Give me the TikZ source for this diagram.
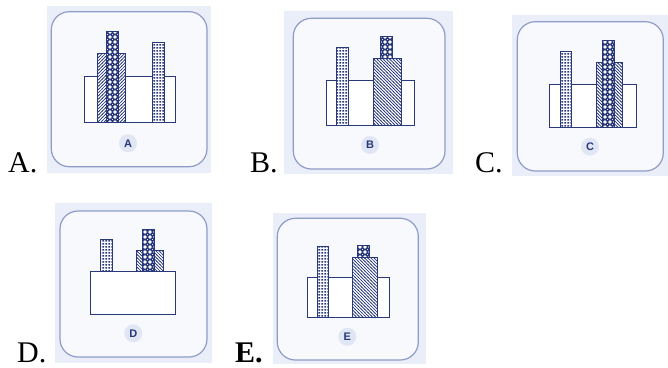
\documentclass[tikz,border=0pt]{standalone}
\usepackage{fontspec}
\setmainfont{Liberation Serif}
\newfontfamily\lblfont{Liberation Sans}
\usetikzlibrary{patterns}
\definecolor{navy}{RGB}{40,56,122}
\definecolor{panelbg}{RGB}{234,238,249}
\definecolor{cardfill}{RGB}{248,249,253}
\definecolor{cardline}{RGB}{143,156,200}
\definecolor{lblbg}{RGB}{225,230,245}
% north west lines
\pgfdeclarepatternformonly{nwl}{\pgfqpoint{-1pt}{-1pt}}{\pgfqpoint{4.2pt}{4.2pt}}{\pgfqpoint{3.2pt}{3.2pt}}{%
  \pgfsetlinewidth{0.7pt}%
  \pgfpathmoveto{\pgfqpoint{-0.5pt}{3.7pt}}\pgfpathlineto{\pgfqpoint{3.7pt}{-0.5pt}}%
  \pgfusepath{stroke}}
% north east lines
\pgfdeclarepatternformonly{nel}{\pgfqpoint{-1pt}{-1pt}}{\pgfqpoint{4.2pt}{4.2pt}}{\pgfqpoint{3.2pt}{3.2pt}}{%
  \pgfsetlinewidth{0.7pt}%
  \pgfpathmoveto{\pgfqpoint{-0.5pt}{-0.5pt}}\pgfpathlineto{\pgfqpoint{3.7pt}{3.7pt}}%
  \pgfusepath{stroke}}
% rings in a diamond grid
\pgfdeclarepatternformonly{rings}{\pgfqpoint{-0.5pt}{-0.5pt}}{\pgfqpoint{5.5pt}{5.5pt}}{\pgfqpoint{5pt}{5pt}}{%
  \pgfsetlinewidth{0.5pt}%
  \pgfpathcircle{\pgfqpoint{2.5pt}{2.5pt}}{1.25pt}%
  \pgfpathmoveto{\pgfqpoint{0pt}{2.5pt}}\pgfpathlineto{\pgfqpoint{2.5pt}{0pt}}%
  \pgfpathmoveto{\pgfqpoint{2.5pt}{5pt}}\pgfpathlineto{\pgfqpoint{5pt}{2.5pt}}%
  \pgfpathmoveto{\pgfqpoint{0pt}{2.5pt}}\pgfpathlineto{\pgfqpoint{2.5pt}{5pt}}%
  \pgfpathmoveto{\pgfqpoint{2.5pt}{0pt}}\pgfpathlineto{\pgfqpoint{5pt}{2.5pt}}%
  \pgfusepath{stroke}}
% dense dot grid
\pgfdeclarepatternformonly{dotgrid}{\pgfqpoint{0pt}{0pt}}{\pgfqpoint{3pt}{3pt}}{\pgfqpoint{3pt}{3pt}}{%
  \pgfpathrectangle{\pgfqpoint{0.4pt}{0.6pt}}{\pgfqpoint{2.1pt}{1.8pt}}%
  \pgfusepath{fill}}
\begin{document}
\begin{tikzpicture}[x=1pt,y=-1pt,
  bgpanel/.style={fill=panelbg, draw=none},
  card/.style={draw=cardline, line width=1.2pt, fill=cardfill, rounded corners=18pt},
  tank/.style={draw=navy, line width=0.9pt, fill=white},
  colnw/.style={draw=navy, line width=0.9pt, preaction={fill=white}, pattern=nwl, pattern color=navy},
  colne/.style={draw=navy, line width=0.9pt, preaction={fill=white}, pattern=nel, pattern color=navy},
  colring/.style={draw=navy, line width=0.9pt, preaction={fill=white}, pattern=rings, pattern color=navy},
  coldot/.style={draw=navy, line width=0.9pt, preaction={fill=white}, pattern=dotgrid, pattern color=navy},
  lblcirc/.style={circle, fill=lblbg, inner sep=0pt, minimum size=18pt, text=navy,
    font=\lblfont\bfseries\fontsize{11}{12}\selectfont},
  optlabel/.style={anchor=base west, inner sep=0pt, font=\fontsize{30}{30}\selectfont}
]
\useasboundingbox (0,0) rectangle (668,367);
\fill[white] (0,0) rectangle (668,367);

% ---------- A ----------
\fill[bgpanel] (47,6) rectangle (211,173);
\draw[card] (51.3,11.7) rectangle (207,166.7);
\draw[tank] (84,76.7) rectangle (175,122.3);
\draw[colne] (97.3,53.7) rectangle (125.7,122.3);
\draw[colring] (106.7,31) rectangle (118.7,122.3);
\draw[coldot] (152.3,42.3) rectangle (164.3,122.3);
\node[lblcirc] (la) at (128,143.3) {A};
\node[optlabel] (ta) at (8,172) {A.};

% ---------- B ----------
\fill[bgpanel] (284,11) rectangle (453,174);
\draw[card] (293.3,18.3) rectangle (445,169);
\draw[tank] (326,80.7) rectangle (414,125);
\draw[coldot] (336.3,47.7) rectangle (348.3,125);
\draw[colnw] (373.3,58.7) rectangle (401,125);
\draw[colring] (380.3,36.7) rectangle (392.3,58.7);
\node[lblcirc] (lb) at (370,145) {B};
\node[optlabel] (tb) at (250,172) {B.};

% ---------- C ----------
\fill[bgpanel] (512,15) rectangle (668,176);
\draw[card] (517.3,21.7) rectangle (663.3,171);
\draw[tank] (549.3,84) rectangle (636,127.7);
\draw[coldot] (560,51) rectangle (571.3,127.7);
\draw[colnw] (596.7,62) rectangle (622.7,127.7);
\draw[colring] (602.7,40.3) rectangle (614.3,127.7);
\node[lblcirc] (lc) at (590,146.7) {C};
\node[optlabel] (tc) at (475,172) {C.};

% ---------- D ----------
\fill[bgpanel] (55,203) rectangle (212,363);
\draw[card] (60,211) rectangle (207,357);
\draw[tank] (90,271.3) rectangle (175.7,314.3);
\draw[coldot] (100,239.7) rectangle (112.3,271.3);
\draw[colnw] (136.7,250) rectangle (163,271.3);
\draw[colring] (142.7,229) rectangle (154.3,271.3);
\node[lblcirc] (ld) at (133.3,333.3) {D};
\node[optlabel] (td) at (17,362) {D.};

% ---------- E ----------
\fill[bgpanel] (273,213) rectangle (426,364);
\draw[card] (277.3,218.3) rectangle (418.3,360);
\draw[tank] (307.3,277) rectangle (389,317.7);
\draw[coldot] (317,246) rectangle (328.7,317.7);
\draw[colnw] (352,257) rectangle (377,317.7);
\draw[colring] (357.7,245.3) rectangle (369,257);
\node[lblcirc] (le) at (347.3,336.7) {E};
\node[optlabel] (te) at (235,362) {\bfseries E.};
\end{tikzpicture}
\end{document}
